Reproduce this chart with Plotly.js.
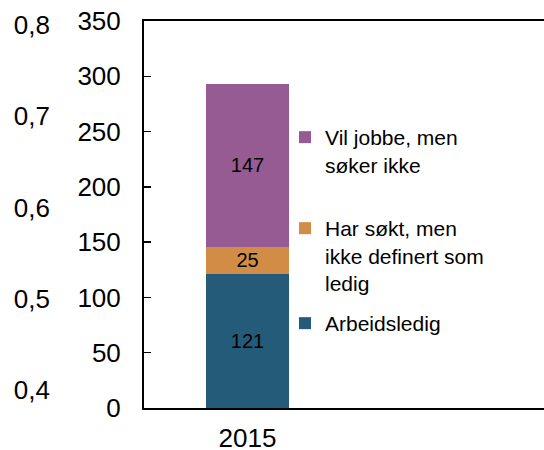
<!DOCTYPE html>
<html>
<head>
<meta charset="utf-8">
<script src="https://cdn.plot.ly/plotly-3.0.1.min.js"></script>
<style>html,body{margin:0;padding:0;background:#fff;}#chart{width:544px;height:450px;}</style>
</head>
<body>
<div id="chart"></div>
<script>
var categories = ['2015'];
var arbeidsledig = [121];
var harSokt = [25];
var vilJobbe = [147];
var seriesNames = ['Arbeidsledig', 'Har søkt, men<br>ikke definert som<br>ledig', 'Vil jobbe, men<br>søker ikke'];
var leftTicks = [0.4, 0.5, 0.6, 0.7, 0.8];
var mainTicks = [0, 50, 100, 150, 200, 250, 300, 350];

var FONT = 'Liberation Sans, Arial, sans-serif';
function barTrace(vals, name, color, legend) {
  return {
    type: 'bar', x: categories, y: vals, name: name,
    marker: {color: color, line: {width: 0}},
    text: vals.map(String), textposition: 'inside', insidetextanchor: 'middle',
    textfont: {family: FONT, size: 20, color: '#000'},
    constraintext: 'none', cliponaxis: false, hoverinfo: 'none',
    legend: legend
  };
}
var data = [
  barTrace(arbeidsledig, seriesNames[0], '#245B79', 'legend3'),
  barTrace(harSokt, seriesNames[1], '#D18C45', 'legend2'),
  barTrace(vilJobbe, seriesNames[2], '#975B94', 'legend')
];

var legendBase = {
  xref: 'paper', yref: 'paper', xanchor: 'left', yanchor: 'top',
  bgcolor: 'rgba(0,0,0,0)', borderwidth: 0, valign: 'top',
  font: {family: FONT, size: 21, color: '#000'}
};
function lg(px, py) { var o = Object.assign({}, legendBase); o.x = px / 544; o.y = (408 - py) / 387; return o; }

var layout = {
  width: 544, height: 450,
  margin: {l: 0, r: 0, t: 21, b: 42, pad: 0, autoexpand: false},
  paper_bgcolor: '#fff', plot_bgcolor: '#fff',
  separators: ', ',
  font: {family: FONT, size: 26, color: '#000'},
  barmode: 'stack', bargap: 0.585,
  showlegend: true,
  legend: lg(285, 117),
  legend2: lg(285, 208),
  legend3: lg(285, 303),
  xaxis: {
    type: 'category', categoryarray: categories,
    domain: [144 / 544, 1], range: [-0.5175, 1.4825],
    showline: true, linecolor: '#000', linewidth: 2, mirror: true,
    ticks: '', showgrid: false, zeroline: false,
    tickfont: {family: FONT, size: 26, color: '#000'},
    ticklabelstandoff: 6
  },
  yaxis: {
    range: [0, 350], tickvals: mainTicks,
    showline: true, linecolor: '#000', linewidth: 2,
    ticks: 'inside', ticklen: 7, tickwidth: 1.5, tickcolor: '#000',
    showgrid: false, zeroline: false,
    tickfont: {family: FONT, size: 26, color: '#000'},
    ticklabelstandoff: 16
  },
  yaxis2: {
    overlaying: 'y', anchor: 'free', side: 'left', position: 50 / 544,
    range: [0.3803, 0.8044], tickvals: leftTicks, tickformat: '.1f',
    showline: false, ticks: '', showgrid: false, zeroline: false,
    tickfont: {family: FONT, size: 26, color: '#000'}
  }
};
data.push({type: 'scatter', x: [], y: [], yaxis: 'y2', showlegend: false, hoverinfo: 'none'});
Plotly.newPlot('chart', data, layout, {staticPlot: true});
</script>
</body>
</html>
